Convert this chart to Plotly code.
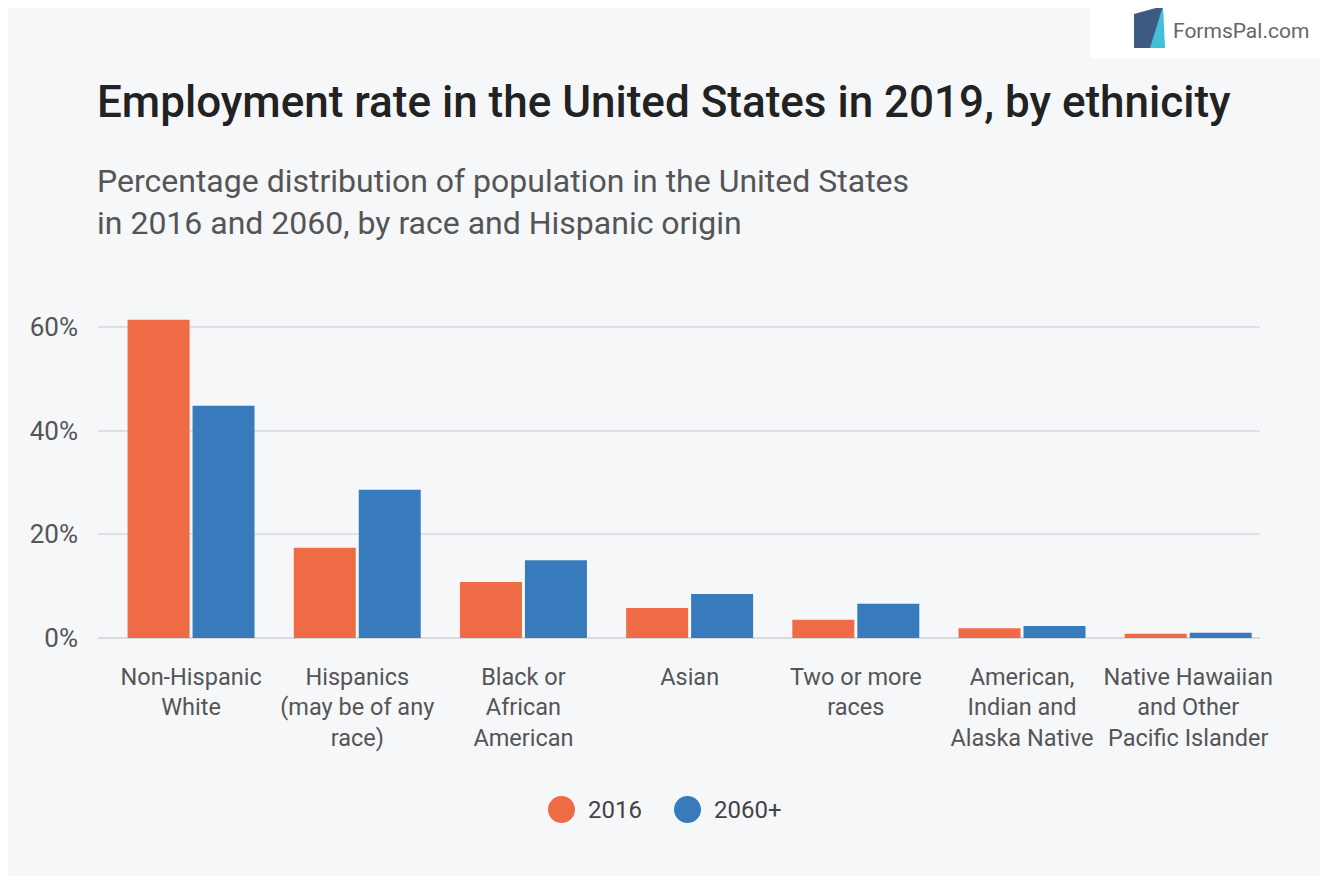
import plotly.graph_objects as go

# data
categories = ['Non-Hispanic<br>White', 'Hispanics<br>(may be of any<br>race)', 'Black or<br>African<br>American',
              'Asian', 'Two or more<br>races', 'American,<br>Indian and<br>Alaska Native',
              'Native Hawaiian<br>and Other<br>Pacific Islander']
share_2016 = [61.4, 17.4, 10.8, 5.8, 3.5, 1.9, 0.8]
share_2060 = [44.8, 28.6, 15.0, 8.5, 6.6, 2.3, 1.0]
series_names = ['2016', '2060+']
tick_vals = [0, 20, 40, 60]
tick_text = ['0%', '20%', '40%', '60%']

orange = '#EF6B45'
blue = '#377BBD'
bg = '#F6F7F9'

# page puts the figure 8px in from the corner, so work in shifted pixels
OFF = 8
W, H = 1328 - 2 * OFF, 884 - 2 * OFF
L, T = 98 - OFF, 301 - OFF
R = W - (1260 - OFF)
B = H - (638 - OFF)

def py(ypix):
    # reference pixel row -> paper y
    return (H - B - (ypix - OFF)) / (H - T - B)

def px(xpix):
    return (xpix - OFF - L) / (W - L - R)

fig = go.Figure()
fig.add_trace(go.Bar(x=categories, y=share_2016, name=series_names[0], marker_color=orange,
                     marker_line_width=0, showlegend=False))
fig.add_trace(go.Bar(x=categories, y=share_2060, name=series_names[1], marker_color=blue,
                     marker_line_width=0, showlegend=False))

annots = [
    dict(text='Employment rate in the United States in 2019, by ethnicity', x=px(95), y=py(102),
         font=dict(size=44, color='#222222', family='Roboto', weight=500)),
    dict(text='Percentage distribution of population in the United States<br>in 2016 and 2060, by race and Hispanic origin',
         x=px(95), y=py(202), font=dict(size=32, color='#555555', family='Roboto')),
    dict(text=series_names[0], x=px(586), y=py(810), font=dict(size=24, color='#444444', family='Roboto')),
    dict(text=series_names[1], x=px(712), y=py(810), font=dict(size=24, color='#444444', family='Roboto')),
    dict(text='FormsPal.com', x=px(1171), y=py(31), font=dict(size=21, color='#666666', family='Roboto')),
]
for a in annots:
    a.update(xref='paper', yref='paper', xanchor='left', yanchor='middle', showarrow=False, align='left')

shapes = [
    # logo background
    dict(type='rect', xref='paper', yref='paper', x0=px(1090), x1=px(1340), y0=py(58), y1=py(-5),
         fillcolor='white', line_width=0, layer='below'),
    # logo icon
    dict(type='path', xref='paper', yref='paper',
         path='M {} {} L {} {} L {} {} L {} {} Z'.format(px(1134), py(14), px(1163), py(6), px(1163), py(48), px(1134), py(48)),
         fillcolor='#3D5A80', line_width=0),
    dict(type='path', xref='paper', yref='paper',
         path='M {} {} L {} {} L {} {} L {} {} Z'.format(px(1150), py(48), px(1163), py(6), px(1165), py(48), px(1150), py(48)),
         fillcolor='#3FC1D9', line_width=0),
    # legend dots
    dict(type='circle', xref='paper', yref='paper', x0=px(548), x1=px(575), y0=py(823), y1=py(796),
         fillcolor=orange, line_width=0),
    dict(type='circle', xref='paper', yref='paper', x0=px(674), x1=px(701), y0=py(823), y1=py(796),
         fillcolor=blue, line_width=0),
]

fig.update_layout(
    width=W, height=H,
    margin=dict(l=L, r=R, t=T, b=B),
    paper_bgcolor=bg, plot_bgcolor=bg,
    barmode='group', bargap=0.218, bargroupgap=0.046,
    font=dict(family='Roboto', color='#555555'),
    annotations=annots, shapes=shapes,
    showlegend=False,
    yaxis=dict(range=[0, 65], tickvals=tick_vals, ticktext=tick_text, showgrid=True,
               gridcolor='#DEE0E4', gridwidth=1.5, zeroline=True, zerolinecolor='#D8DADE',
               zerolinewidth=2, tickfont=dict(size=26, color='#555555'), ticklabelstandoff=19,
               fixedrange=True),
    xaxis=dict(range=[-0.56, 6.432], tickfont=dict(size=23.5, color='#555555'), ticklabelstandoff=22,
               showline=False, fixedrange=True),
)

fig.write_html("out.html")
